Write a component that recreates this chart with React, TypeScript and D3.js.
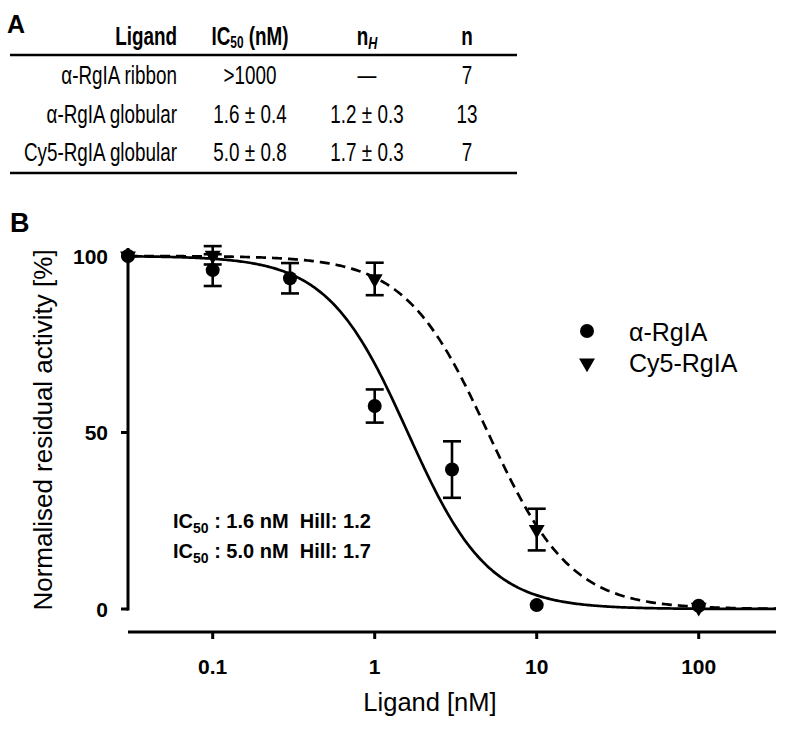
import React from "react";
import * as d3 from "d3";

// ---- Table (panel A) ----
const tableLigands = ["α-RgIA ribbon", "α-RgIA globular", "Cy5-RgIA globular"];
const tableIC50 = [">1000", "1.6 ± 0.4", "5.0 ± 0.8"];
const tableHill = ["—", "1.2 ± 0.3", "1.7 ± 0.3"];
const tableN = ["7", "13", "7"];

// ---- Chart (panel B) ----
const rgConc = [0.03, 0.1, 0.3, 1, 3, 10, 100];
const rgMean = [100, 96, 93.7, 57.5, 39.5, 1.1, 0.9];
const rgErr = [0, 4.5, 4.3, 4.7, 8, 0, 0];

const cyConc = [0.03, 0.1, 1, 10, 100];
const cyMean = [100, 100.2, 93.5, 22.5, 0.5];
const cyErr = [0, 2.6, 4.6, 5.9, 0];

// curve parameters as drawn in the figure
const curveIC50 = [1.6, 5.0];
const curveHill = [1.75, 1.7];
// annotation text values
const labelIC50 = ["1.6", "5.0"];
const labelHill = ["1.2", "1.7"];
const seriesNames = ["α-RgIA", "Cy5-RgIA"];

const xTicks = [0.1, 1, 10, 100];
const xTickLabels = ["0.1", "1", "10", "100"];
const yTicks = [0, 50, 100];

const FONT = "'Liberation Sans', Arial, Helvetica, sans-serif";

export default function App() {
  const x = d3.scaleLog().domain([0.03, 300]).range([128, 776]);
  const y = d3.scaleLinear().domain([0, 100]).range([609, 256]);

  const xs = d3.range(0, 401).map((i) => 0.03 * Math.pow(10000, i / 400));
  const curve = (ic: number, h: number) =>
    d3
      .line<number>()
      .x((c) => x(c))
      .y((c) => y(100 / (1 + Math.pow(c / ic, h))))
      .curve(d3.curveLinear)(xs) || "";

  const tri = d3.symbol(d3.symbolTriangle, 110)() || "";
  const sx = 0.74;
  const rowY = [84, 123, 161];

  const errBar = (cx: number, m: number, e: number, key: string) =>
    e > 0 ? (
      <g key={key} stroke="#000" strokeWidth={2.6}>
        <line x1={x(cx)} x2={x(cx)} y1={y(m - e)} y2={y(m + e)} />
        <line x1={x(cx) - 9} x2={x(cx) + 9} y1={y(m - e)} y2={y(m - e)} />
        <line x1={x(cx) - 9} x2={x(cx) + 9} y1={y(m + e)} y2={y(m + e)} />
      </g>
    ) : null;

  return (
    <svg
      width={800}
      height={729}
      style={{ position: "absolute", left: 0, top: 0, background: "#fff" }}
      fontFamily={FONT}
    >
      <rect width={800} height={729} fill="#fff" />
      {/* Panel A */}
      <text x={7} y={33} fontSize={25} fontWeight="bold">A</text>
      <g fontWeight="bold" fontSize={25.5}>
        <text transform={`translate(177,45) scale(${sx},1)`} textAnchor="end">Ligand</text>
        <text transform={`translate(250,45) scale(${sx},1)`} textAnchor="middle">
          IC<tspan fontSize={16} dy={3}>50</tspan>
          <tspan dy={-3}> (nM)</tspan>
        </text>
        <text transform={`translate(367,45) scale(${sx},1)`} textAnchor="middle">
          n<tspan fontSize={17} dy={4} fontStyle="italic">H</tspan>
        </text>
        <text transform={`translate(467,45) scale(${sx},1)`} textAnchor="middle">n</text>
      </g>
      <line x1={10} x2={517} y1={55} y2={55} stroke="#000" strokeWidth={2.5} />
      <line x1={10} x2={517} y1={173} y2={173} stroke="#000" strokeWidth={2.5} />
      <g fontSize={25.5}>
        {tableLigands.map((l, i) => (
          <g key={l}>
            <text transform={`translate(177,${rowY[i]}) scale(${sx},1)`} textAnchor="end">{l}</text>
            <text transform={`translate(250,${rowY[i]}) scale(${sx},1)`} textAnchor="middle">{tableIC50[i]}</text>
            <text transform={`translate(367,${rowY[i]}) scale(${sx},1)`} textAnchor="middle">{tableHill[i]}</text>
            <text transform={`translate(467,${rowY[i]}) scale(${sx},1)`} textAnchor="middle">{tableN[i]}</text>
          </g>
        ))}
      </g>

      {/* Panel B */}
      <text x={10} y={232} fontSize={27} fontWeight="bold">B</text>

      {/* y axis */}
      <line x1={128} x2={128} y1={y(0) + 1.5} y2={y(100) - 8} stroke="#000" strokeWidth={3} />
      {yTicks.map((t) => (
        <g key={t}>
          <line x1={121} x2={128} y1={y(t)} y2={y(t)} stroke="#000" strokeWidth={3} />
          <text x={108} y={y(t) + 7.5} fontSize={21} fontWeight="bold" textAnchor="end">{t}</text>
        </g>
      ))}
      {/* x axis */}
      <line x1={128} x2={776} y1={632} y2={632} stroke="#000" strokeWidth={3} />
      {xTicks.map((t, i) => (
        <g key={t}>
          <line x1={x(t)} x2={x(t)} y1={632} y2={639} stroke="#000" strokeWidth={3} />
          <text x={x(t)} y={674} fontSize={21} fontWeight="bold" textAnchor="middle">{xTickLabels[i]}</text>
        </g>
      ))}
      <text x={430} y={711} fontSize={25.5} textAnchor="middle">Ligand [nM]</text>
      <text transform="translate(52,430) rotate(-90)" fontSize={26} textAnchor="middle">
        Normalised residual activity [%]
      </text>

      {/* fitted curves */}
      <path d={curve(curveIC50[1], curveHill[1])} fill="none" stroke="#000" strokeWidth={2.7} strokeDasharray="10,6" />
      <path d={curve(curveIC50[0], curveHill[0])} fill="none" stroke="#000" strokeWidth={2.7} />

      {/* error bars */}
      {cyConc.map((c, i) => errBar(c, cyMean[i], cyErr[i], "ce" + i))}
      {rgConc.map((c, i) => errBar(c, rgMean[i], rgErr[i], "re" + i))}

      {/* markers */}
      {cyConc.map((c, i) => (
        <path key={"ct" + i} d={tri} transform={`translate(${x(c)},${y(cyMean[i])}) rotate(180)`} fill="#000" />
      ))}
      {rgConc.map((c, i) => (
        <circle key={"rc" + i} cx={x(c)} cy={y(rgMean[i])} r={7} fill="#000" />
      ))}

      {/* legend */}
      <circle cx={587} cy={331} r={7} fill="#000" />
      <path d={tri} transform="translate(587,363) rotate(180)" fill="#000" />
      <text x={629} y={341} fontSize={25}>{seriesNames[0]}</text>
      <text x={629} y={372} fontSize={25}>{seriesNames[1]}</text>

      {/* annotation */}
      <g fontSize={20} fontWeight="bold">
        {labelIC50.map((ic, i) => (
          <text key={i} x={173} y={528 + i * 30} style={{ whiteSpace: "pre" }}>
            IC<tspan fontSize={14} dy={5}>50</tspan>
            <tspan dy={-5}>{` : ${ic} nM  Hill: ${labelHill[i]}`}</tspan>
          </text>
        ))}
      </g>
    </svg>
  );
}
